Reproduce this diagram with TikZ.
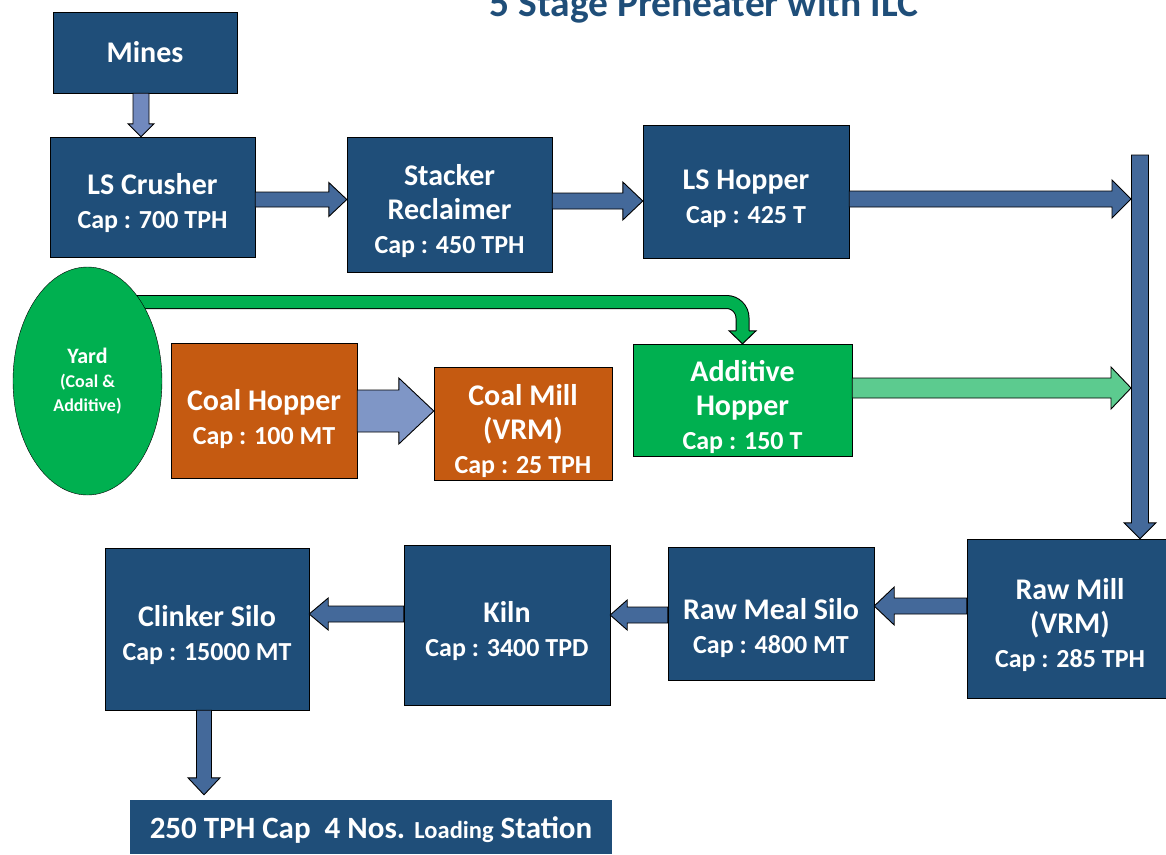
\documentclass[tikz,border=0pt]{standalone}
\usepackage{fontspec}
\setmainfont{Carlito}
\usetikzlibrary{calc,backgrounds,shapes.geometric}
\definecolor{boxblue}{HTML}{1F4E79}
\definecolor{flowblue}{HTML}{44699A}
\definecolor{paleblue}{HTML}{7189BE}
\definecolor{coalblue}{HTML}{7F96C6}
\definecolor{coalorange}{HTML}{C55A11}
\definecolor{yardgreen}{HTML}{00B050}
\definecolor{palegreen}{HTML}{5CCB8F}
\newcommand{\capline}[1]{{\fontsize{26}{34}\selectfont #1}}
\newcommand{\smallline}[1]{{\fontsize{18}{24}\selectfont #1}}
%BLOCK ARROWS: STYLE, FROM, TO, DIRECTION (1 OR -1), HALF SHAFT, HALF HEAD, HEAD LENGTH
\newcommand{\hflow}[7]{\filldraw [#1] let \p1=(#2), \p2=(#3) in
  (\x1,\y1+#5) -- (\x2-#4*#7,\y1+#5) -- (\x2-#4*#7,\y1+#6) -- (\x2,\y1)
  -- (\x2-#4*#7,\y1-#6) -- (\x2-#4*#7,\y1-#5) -- (\x1,\y1-#5) -- cycle;}
\newcommand{\vflow}[7]{\filldraw [#1] let \p1=(#2), \p2=(#3) in
  (\x1+#5,\y1) -- (\x1+#5,\y2-#4*#7) -- (\x1+#6,\y2-#4*#7) -- (\x1,\y2)
  -- (\x1-#6,\y2-#4*#7) -- (\x1-#5,\y2-#4*#7) -- (\x1-#5,\y1) -- cycle;}

\begin{document}
\begin{tikzpicture}[x=1pt,y=-1pt,
  box/.style={draw=black,fill=boxblue,text=white,align=center,inner sep=0pt,font=\bfseries\fontsize{30}{34}\selectfont},
  coalbox/.style={box,fill=coalorange},
  flow/.style={draw=black,line width=0.9pt,fill=flowblue},
  paleflow/.style={flow,fill=paleblue},
  coalflow/.style={flow,fill=coalblue},
  greenflow/.style={flow,fill=palegreen}]
\useasboundingbox (0,0) rectangle (1166,854);
\clip (0,0) rectangle (1166,854);
%TITLE
\node [anchor=base,text=boxblue,font=\bfseries\fontsize{39.5}{44}\selectfont] (title) at (704,16) {5 Stage Preheater with ILC};
%LIMESTONE LINE
\node [box,minimum width=184,minimum height=81] (mines) at (145,52.5) {Mines};
\node [box,minimum width=205,minimum height=120] (crusher) at (152.5,197) {\rule{0pt}{34pt}LS Crusher\\\capline{Cap : 700 TPH}};
\node [box,minimum width=205,minimum height=135] (stacker) at (449.5,204.5) {\rule{0pt}{34pt}Stacker\\Reclaimer\\\capline{Cap : 450 TPH}};
\node [box,minimum width=206,minimum height=133] (lshopper) at (746,191.5) {\rule{0pt}{34pt}LS Hopper\\\capline{Cap : 425 T}};
%YARD, COAL AND ADDITIVE
\node [ellipse,draw=black,fill=yardgreen,text=white,align=center,inner sep=0pt,minimum width=149,minimum height=228,font=\bfseries\fontsize{22}{24}\selectfont] (yard) at (87.5,381) {Yard\\\smallline{(Coal \&}\\\smallline{Additive)}};
\node [coalbox,minimum width=186,minimum height=135] (coalhopper) at (264,410.5) {\rule{0pt}{38pt}Coal Hopper\\\capline{Cap : 100 MT}};
\node [coalbox,minimum width=178,minimum height=113] (coalmill) at (523,423.5) {\rule{0pt}{36pt}Coal Mill\\(VRM)\\\capline{Cap : 25 TPH}};
\node [box,fill=yardgreen,minimum width=219,minimum height=112] (additive) at (742.5,400) {\rule{0pt}{36pt}Additive\\Hopper\\\capline{Cap : 150 T}};
%RAW MILL TO CLINKER
\node [box,minimum width=206,minimum height=159] (rawmill) at (1070,618.5) {\rule{0pt}{34pt}Raw Mill\\(VRM)\\\capline{Cap : 285 TPH}};
\node [box,minimum width=206,minimum height=133] (rawmeal) at (771,613.5) {\rule{0pt}{50pt}Raw Meal Silo\\\capline{Cap : 4800 MT}};
\node [box,minimum width=206,minimum height=160] (kiln) at (507,625) {\rule{0pt}{34pt}Kiln\\\capline{Cap : 3400 TPD}};
\node [box,minimum width=204,minimum height=162] (clinker) at (207,629) {\rule{0pt}{34pt}Clinker Silo\\\capline{Cap : 15000 MT}};
\node [box,draw=none,minimum width=482,minimum height=54] (loading) at (371,827) {\rule{0pt}{28pt}\fontsize{31}{36}\selectfont 250 TPH Cap\ \ 4 Nos. {\fontsize{24.5}{36}\selectfont Loading} Station};
%FLOW ARROWS
\coordinate (bartop) at (1140,155);
\coordinate (barside) at (1131,155);
\vflow{paleflow}{$(mines.south)+(-4,0)$}{crusher.north}{-1}{8pt}{13pt}{13pt}
\hflow{flow}{$(crusher.east)+(0,2.5)$}{stacker.west}{1}{7.5pt}{17pt}{18pt}
\hflow{flow}{$(stacker.east)+(0,-3.5)$}{lshopper.west}{1}{8pt}{19pt}{20pt}
\hflow{flow}{$(lshopper.east)+(0,7.5)$}{barside}{1}{8pt}{19pt}{19pt}
\vflow{flow}{bartop}{rawmill.north}{-1}{8.5pt}{16pt}{16pt}
\hflow{greenflow}{$(additive.east)+(0,-12)$}{barside}{1}{10pt}{21pt}{20pt}
\hflow{coalflow}{$(coalhopper.east)+(0,0.5)$}{coalmill.west}{1}{21pt}{33pt}{35pt}
\hflow{flow}{$(rawmill.west)+(0,-12.5)$}{rawmeal.east}{-1}{8pt}{19pt}{20pt}
\hflow{flow}{$(rawmeal.west)+(0,1.5)$}{kiln.east}{-1}{8pt}{15pt}{17pt}
\hflow{flow}{$(kiln.west)+(0,-11)$}{clinker.east}{-1}{8pt}{16pt}{19pt}
\vflow{flow}{$(clinker.south)+(-3,0)$}{$(loading.north)+(0,-5)$}{-1}{7.5pt}{16pt}{17pt}
%YARD TO ADDITIVE HOPPER
\begin{scope}[on background layer]
\draw [draw=black,line width=1pt,double=yardgreen,double distance=12pt,rounded corners=16pt] (yard.center |- 0,302) -- (additive.north |- 0,302) -- ($(additive.north)+(0,-13)$);
\end{scope}
\filldraw [fill=yardgreen,draw=black,line width=1pt] ($(additive.north)+(-6.5,-13)$) -- ++(-7,0) -- (additive.north) -- ++(13.5,-13) -- ++(-7,0);
\end{tikzpicture}
\end{document}
